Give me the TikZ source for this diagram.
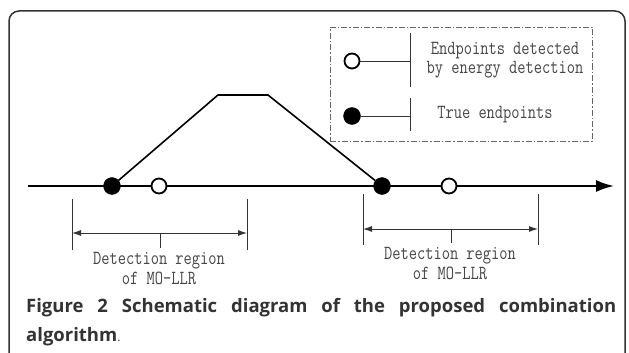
\documentclass[tikz,border=0pt]{standalone}
\usepackage{fontspec}
\setmainfont{Open Sans}
\newfontfamily\labelfont[FakeStretch=0.8]{Latin Modern Mono}
\usetikzlibrary{arrows.meta, positioning}
\definecolor{framegray}{HTML}{333333}
\definecolor{textgray}{HTML}{454545}

\begin{document}
\begin{tikzpicture}[
  x=1pt, y=-1pt,
  >=Latex,
  dotopen/.style={
    circle, draw=black, fill=white, line width=1.8pt,
    minimum size=15pt, inner sep=0pt
  },
  dotfull/.style={
    circle, draw=black, fill=black,
    minimum size=17pt, inner sep=0pt
  },
  axisline/.style={line width=2pt, -{Latex[length=18pt,width=12pt]}},
  slope/.style={line width=1.6pt},
  thinline/.style={line width=0.9pt, draw=framegray},
  regionarr/.style={thinline, {Latex[length=9pt,width=6pt]}-{Latex[length=9pt,width=6pt]}},
  labl/.style={
    font=\labelfont\fontsize{20}{19.5}\selectfont,
    text=textgray, align=center, inner sep=0pt
  },
  legendbox/.style={draw=black!60, dash pattern=on 6pt off 2pt on 1.5pt off 2pt, line width=0.9pt},
  captext/.style={font=\fontsize{18.5}{22}\selectfont, text=framegray, inner sep=0pt, anchor=west}
]
\useasboundingbox (0,0) rectangle (629,353);
\clip (0,0) rectangle (629,353);

\draw[framegray, line width=1.5pt, rounded corners=10pt]
  (9,380) -- (9,11) -- (625,11) -- (625,380);

\node[legendbox, minimum width=262pt, minimum height=114pt] (legend) at (461,84) {};

\node[dotopen] (legopen) at (352,61) {};
\node[dotfull] (legfull) at (352,116) {};
\coordinate (barA) at (410,61);
\coordinate (barB) at (410,116);
\draw[thinline] (legopen) -- (barA);
\draw[thinline] (legfull) -- (barB);
\draw[thinline] (barA) ++(0,-28) -- ++(0,54);
\draw[thinline] (barB) ++(0,-18) -- ++(0,33);
\node[labl] (legtxtA) at (505,60) {Endpoints detected\\by energy detection};
\node[labl] (legtxtB) at (495,115) {True endpoints};

\coordinate (axisstart) at (28,186);
\coordinate (axisend) at (614,186);
\draw[axisline] (axisstart) -- (axisend);

\coordinate (topL) at (218,95);
\coordinate (topR) at (268,95);

\node[dotfull] (trueL) at (112,186) {};
\node[dotopen] (detL) at (159,186) {};
\node[dotfull] (trueR) at (382,186) {};
\node[dotopen] (detR) at (449,186) {};

\draw[slope] (trueL) -- (topL) -- (topR) -- (trueR);

\coordinate (regLa) at (72,233);
\coordinate (regLb) at (247,233);
\coordinate (regLm) at (160,233);
\draw[thinline] (regLa) ++(0,-34) -- ++(0,51);
\draw[thinline] (regLb) ++(0,-34) -- ++(0,51);
\draw[regionarr] (regLa) -- (regLb);
\draw[thinline] (regLm) -- ++(0,15);
\node[labl] (regLtxt) at (159,268.5) {Detection region\\of MO-LLR};

\coordinate (regRa) at (363,229);
\coordinate (regRb) at (538,229);
\coordinate (regRm) at (451,229);
\draw[thinline] (regRa) ++(0,-35) -- ++(0,51);
\draw[thinline] (regRb) ++(0,-35) -- ++(0,51);
\draw[regionarr] (regRa) -- (regRb);
\draw[thinline] (regRm) -- ++(0,14);
\node[labl] (regRtxt) at (450,263.5) {Detection region\\of MO-LLR};

\node[captext] (caption) at (26,308)
  {\makebox[590pt][s]{\bfseries Figure 2 Schematic diagram of the proposed combination}};
\node[captext] (captail) at (26,337) {\textbf{algorithm}{\fontsize{12}{13}\selectfont.}};

\end{tikzpicture}
\end{document}
